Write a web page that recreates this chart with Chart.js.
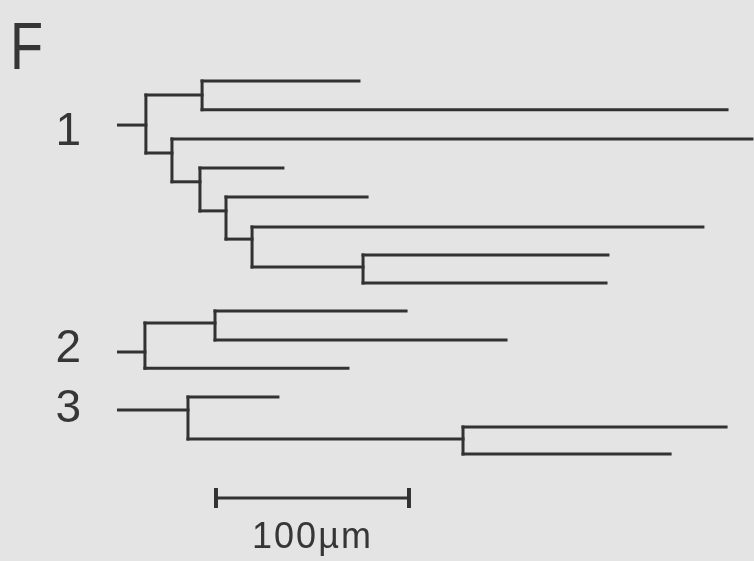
<!DOCTYPE html>
<html>
<head>
<meta charset="utf-8">
<script src="https://cdn.jsdelivr.net/npm/chart.js@4/dist/chart.umd.min.js"></script>
<style>
  html, body { margin: 0; background: #e4e4e4; }
  #wrap { width: 754px; height: 561px; }
</style>
</head>
<body>
<div id="wrap"><canvas id="branchChart"></canvas></div>
<script>
// Horizontal branches: start and end length (µm), and the row they sit on.
// Rows count leaf slots from the top; forks sit between their children.
const tree1Start = [0, 14.2, 43.3, 43.3, 14.2, 27.7, 27.7, 42.2, 42.2, 55.7, 55.7, 69.2, 69.2, 126.7, 126.7];
const tree1End   = [14.2, 43.3, 124.6, 315.3, 27.7, 328.2, 42.2, 85.2, 55.7, 128.8, 69.2, 302.8, 126.7, 253.6, 252.6];
const tree1Row   = [1.53, 0.49, 0, 1.0, 2.5, 2.01, 3.5, 3.02, 4.51, 4.03, 5.49, 5.07, 6.46, 6.04, 7.01];

const tree2Start = [0, 13.7, 50.0, 50.0, 13.7];
const tree2End   = [13.7, 50.0, 149.0, 200.8, 118.9];
const tree2Row   = [9.41, 8.40, 7.99, 8.99, 9.97];

const tree3Start = [0, 36.0, 36.0, 178.5, 178.5];
const tree3End   = [36.0, 82.6, 178.5, 314.8, 285.8];
const tree3Row   = [11.42, 10.97, 12.43, 12.01, 12.95];

const treeLabels   = ["1", "2", "3"];
const labelRows    = [2.22, 9.76, 11.84];   // text baselines
const labelLength  = -26;                   // µm, left of the roots

const scaleBarStart  = 50.5;  // µm
const scaleBarLength = 100;   // µm
const scaleBarRow    = 14.48;
const scaleTextRow   = 16.2;

const ink = "#323232";

function treeDatasets(starts, ends, rows) {
  const sets = [];
  starts.forEach((s, i) => {
    sets.push({ data: [{ x: s, y: rows[i] }, { x: ends[i], y: rows[i] }] });
  });
  // one vertical connector for every fork (shared start length)
  const forks = [...new Set(starts)].filter((s) => s > 0);
  forks.forEach((f) => {
    const r = rows.filter((_, i) => starts[i] === f);
    sets.push({ data: [{ x: f, y: Math.min(...r) }, { x: f, y: Math.max(...r) }] });
  });
  return sets;
}

const branchSets = [
  ...treeDatasets(tree1Start, tree1End, tree1Row),
  ...treeDatasets(tree2Start, tree2End, tree2Row),
  ...treeDatasets(tree3Start, tree3End, tree3Row),
].map((d) => ({
  ...d,
  showLine: true,
  borderColor: ink,
  borderWidth: 3,
  borderCapStyle: "square",
  pointRadius: 0,
}));

const scaleBar = {
  data: [
    { x: scaleBarStart, y: scaleBarRow },
    { x: scaleBarStart + scaleBarLength, y: scaleBarRow },
  ],
  showLine: true,
  borderColor: ink,
  borderWidth: 3,
  pointStyle: "line",
  rotation: 90,
  pointRadius: 10,
  pointBorderWidth: 4,
  pointBorderColor: ink,
};

const figureText = {
  id: "figureText",
  afterDatasetsDraw(chart) {
    const { ctx } = chart;
    const x = chart.scales.x;
    const y = chart.scales.y;
    ctx.save();
    ctx.fillStyle = "#363636";
    ctx.textBaseline = "alphabetic";

    // panel letter, a little condensed
    ctx.save();
    ctx.translate(10, 69);
    ctx.scale(0.82, 1);
    ctx.textAlign = "left";
    ctx.font = '66px "Liberation Sans", Arial, sans-serif';
    ctx.fillText("F", 0, 0);
    ctx.restore();

    ctx.textAlign = "center";
    ctx.font = '46px "Liberation Sans", Arial, sans-serif';
    treeLabels.forEach((t, i) => {
      ctx.fillText(t, x.getPixelForValue(labelLength), y.getPixelForValue(labelRows[i]));
    });

    ctx.font = '36px "Liberation Sans", Arial, sans-serif';
    ctx.letterSpacing = "2px";
    ctx.fillText(
      "100\u00b5m",
      x.getPixelForValue(scaleBarStart + scaleBarLength / 2),
      y.getPixelForValue(scaleTextRow)
    );
    ctx.restore();
  },
};

new Chart(document.getElementById("branchChart"), {
  type: "scatter",
  data: { datasets: [...branchSets, scaleBar] },
  options: {
    responsive: true,
    maintainAspectRatio: false,
    animation: false,
    layout: { padding: 0, autoPadding: false },
    scales: {
      x: { type: "linear", min: -61.4, max: 329.27, display: false },
      y: { type: "linear", min: -2.8125, max: 16.667, reverse: true, display: false },
    },
    plugins: {
      legend: { display: false },
      tooltip: { enabled: false },
    },
  },
  plugins: [figureText],
});
</script>
</body>
</html>
